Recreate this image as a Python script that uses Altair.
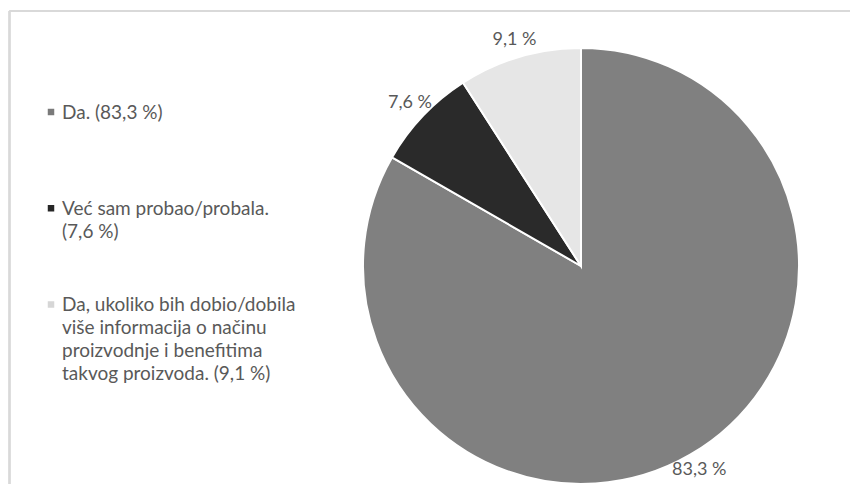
import altair as alt
import pandas as pd

# ---- data ----
categories = [
    "Da.",
    "Već sam probao/probala.",
    "Da, ukoliko bih dobio/dobila više informacija o načinu proizvodnje i benefitima takvog proizvoda.",
]
values = [83.3, 7.6, 9.1]
slice_labels = ["83,3 %", "7,6 %", "9,1 %"]
legend_lines = [
    ["Da. (83,3 %)"],
    ["Već sam probao/probala.", "(7,6 %)"],
    ["Da, ukoliko bih dobio/dobila", "više informacija o načinu",
     "proizvodnje i benefitima", "takvog proizvoda. (9,1 %)"],
]
fills = ["#808080", "#2a2a2a", "#e6e6e6"]
legend_fills = ["#7a7a7a", "#262626", "#d6d6d6"]

df = pd.DataFrame({
    "cat": categories,
    "value": values,
    "label": slice_labels,
    "idx": list(range(len(categories))),
})
leg = pd.DataFrame({
    "cat": categories,
    "lines": legend_lines,
    "idx": list(range(len(categories))),
})

CX, CY, R = 573, 258, 218
W, H = 842, 476
TXT = "#595959"
FONT = "Lato"

base = alt.Chart(df).encode(
    theta=alt.Theta("value:Q", stack=True),
    order=alt.Order("idx:Q"),
    x=alt.value(CX),
    y=alt.value(CY),
)

arcs = base.mark_arc(outerRadius=R, stroke="white", strokeWidth=2).encode(
    color=alt.Color("cat:N", scale=alt.Scale(domain=categories, range=fills), legend=None)
)

labels = base.mark_text(radius=R + 18, font=FONT, fontSize=18, color=TXT).encode(
    text="label:N"
)

yscale = alt.Scale(type="point", domain=[0, 1, 2], range=[110.5, 303], padding=0)

leg_text = alt.Chart(leg).mark_text(
    font=FONT, fontSize=19, color=TXT, align="left", baseline="alphabetic", lineHeight=23
).encode(
    x=alt.value(54),
    y=alt.Y("idx:O", scale=yscale, axis=None),
    text="lines",
)

leg_sym = alt.Chart(leg).mark_square(size=42, opacity=1, yOffset=-6.5).encode(
    x=alt.value(43),
    y=alt.Y("idx:O", scale=yscale, axis=None),
    color=alt.Color("cat:N", scale=alt.Scale(domain=categories, range=legend_fills), legend=None),
)

border_left = alt.Chart(df).mark_rule(color="#d9d9d9", strokeWidth=2).encode(
    x=alt.value(1.5), y=alt.value(3), y2=alt.value(H)
)
border_top = alt.Chart(df).mark_rule(color="#d9d9d9", strokeWidth=2).encode(
    x=alt.value(1.5), x2=alt.value(W), y=alt.value(3)
)

chart = alt.layer(border_left, border_top, arcs, labels, leg_sym, leg_text).resolve_scale(
    color="independent"
).properties(
    width=W, height=H, autosize=alt.AutoSizeParams(type="none"), padding=0
).configure_view(stroke=None)

chart.save("out.html", embed_options={"renderer": "svg", "actions": False})
